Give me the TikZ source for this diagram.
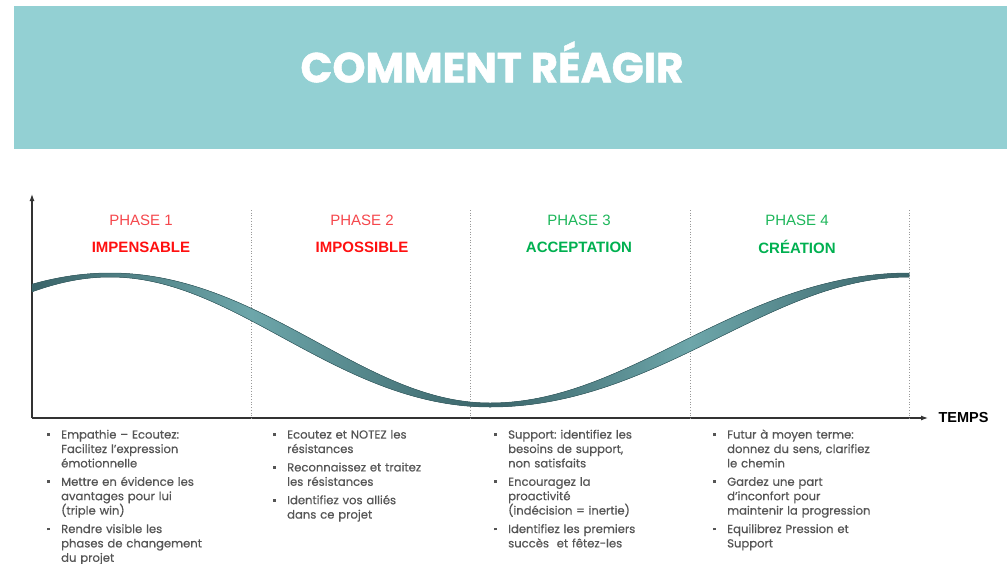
\documentclass[tikz,border=0pt]{standalone}
\usepackage{fontspec}
\setmainfont{Poppins}
\newfontfamily\corpsfont{Poppins}[FakeBold=0.6]
\newfontfamily\titrefont{Poppins Bold}[FakeBold=1.2]
\newfontfamily\phasefont{Liberation Sans}
\usetikzlibrary{arrows.meta,positioning}

\definecolor{bandeau}{HTML}{93D0D3}
\definecolor{rouge}{HTML}{FF1010}
\definecolor{rougeclair}{HTML}{F5474C}
\definecolor{vert}{HTML}{00B050}
\definecolor{vertclair}{HTML}{1DB65A}
\definecolor{gristrait}{HTML}{333333}
\definecolor{gristexte}{HTML}{555555}
\definecolor{rubanfonce}{HTML}{3A6469}
\definecolor{rubanclair}{HTML}{6DA6AA}

% ribbon colours along the time axis
\pgfdeclarehorizontalshading{ruban}{100bp}{color(0bp)=(rubanfonce); color(25bp)=(rubanfonce); color(37.5bp)=(rubanclair); color(51bp)=(rubanfonce); color(62.5bp)=(rubanclair); color(75bp)=(rubanfonce); color(100bp)=(rubanfonce)}

% bullet list inside the columns
\newcommand{\puce}{\makebox[16pt][l]{\hspace{2pt}\raisebox{2.6pt}{\rule{2.8pt}{2.8pt}}}}
\newcommand{\conseil}[1]{\par\hangindent=16pt\hangafter=1\noindent\puce#1\par\vspace{4pt}}

\begin{document}
\frenchspacing
\begin{tikzpicture}[x=1pt,y=-1pt,
  phase/.style={font=\phasefont\fontsize{15}{18}\selectfont},
  nomphase/.style={font=\phasefont\bfseries\fontsize{15}{18}\selectfont},
  separation/.style={gray!80, dotted, line width=0.7pt},
  fleche/.style={gristrait, line width=1.2pt, -{Latex[length=7pt,width=5pt]}},
  colonne/.style={anchor=north west, inner sep=0pt, text width=210pt, align=left,
    text=gristexte, font=\corpsfont\fontsize{11.6}{14.4}\selectfont}]
\useasboundingbox (0,0) rectangle (1007,563);

% header band
\fill[bandeau] (14,6) rectangle (1007,149);
\node[text=white, font=\titrefont\fontsize{42}{46}\selectfont] (titre) at (492,62) {COMMENT RÉAGIR};

% axes
\coordinate (origine) at (32,418);
\coordinate (haut) at (32,194);
\coordinate (fin) at (928,418);
\draw[fleche] (origine) -- (haut);
\draw[fleche] (origine) -- (fin);
\node[anchor=west, font=\phasefont\bfseries\fontsize{14.5}{16}\selectfont] (temps) at (935,418) {TEMPS};

% phase limits
\foreach \x in {251,470,690,909}
  \draw[separation] (\x,210) -- (\x,418);

% phase titles
\node[phase, text=rougeclair] (phase1) at (141,220) {PHASE 1};
\node[nomphase, text=rouge] (nom1) at (141,247) {IMPENSABLE};
\node[phase, text=rougeclair] (phase2) at (362,220) {PHASE 2};
\node[nomphase, text=rouge] (nom2) at (362,247) {IMPOSSIBLE};
\node[phase, text=vertclair] (phase3) at (579,220) {PHASE 3};
\node[nomphase, text=vert] (nom3) at (579,247) {ACCEPTATION};
\node[phase, text=vertclair] (phase4) at (797,220) {PHASE 4};
\node[nomphase, text=vert] (nom4) at (797,247) {CRÉATION};

% change curve (ribbon, thicker on the slopes)
\fill[shading=ruban, draw=rubanfonce, line width=0.5pt]
  plot[domain=32:490, samples=70, smooth] (\x, {340-65*cos((\x-110)/380*180) - (4+10*(sin((\x-110)/380*180))^2)/2})
  -- plot[domain=490:909, samples=70, smooth] (\x, {340+65*cos((\x-490)/419*180) - (4+10*(sin((\x-490)/419*180))^2)/2})
  -- plot[domain=909:490, samples=70, smooth] (\x, {340+65*cos((\x-490)/419*180) + (4+10*(sin((\x-490)/419*180))^2)/2})
  -- plot[domain=490:32, samples=70, smooth] (\x, {340-65*cos((\x-110)/380*180) + (4+10*(sin((\x-110)/380*180))^2)/2})
  -- cycle;

% advice per phase
\node[colonne] (conseils1) at (45,424) {%
  \conseil{Empathie – Ecoutez:\newline Facilitez l’expression\newline émotionnelle}%
  \conseil{Mettre en évidence les\newline avantages pour lui\newline (triple win)}%
  \conseil{Rendre visible les\newline phases de changement\newline du projet}};
\node[colonne] (conseils2) at (271,424) {%
  \conseil{Ecoutez et NOTEZ les\newline résistances}%
  \conseil{Reconnaissez et traitez\newline les résistances}%
  \conseil{Identifiez vos alliés\newline dans ce projet}};
\node[colonne] (conseils3) at (492,424) {%
  \conseil{Support: identifiez les\newline besoins de support,\newline non satisfaits}%
  \conseil{Encouragez la\newline proactivité\newline (indécision = inertie)}%
  \conseil{Identifiez les premiers\newline succès\ \ et fêtez-les}};
\node[colonne] (conseils4) at (711,424) {%
  \conseil{Futur à moyen terme:\newline donnez du sens, clarifiez\newline le chemin}%
  \conseil{Gardez une part\newline d’inconfort pour\newline maintenir la progression}%
  \conseil{Equilibrez Pression et\newline Support}};

\end{tikzpicture}
\end{document}
